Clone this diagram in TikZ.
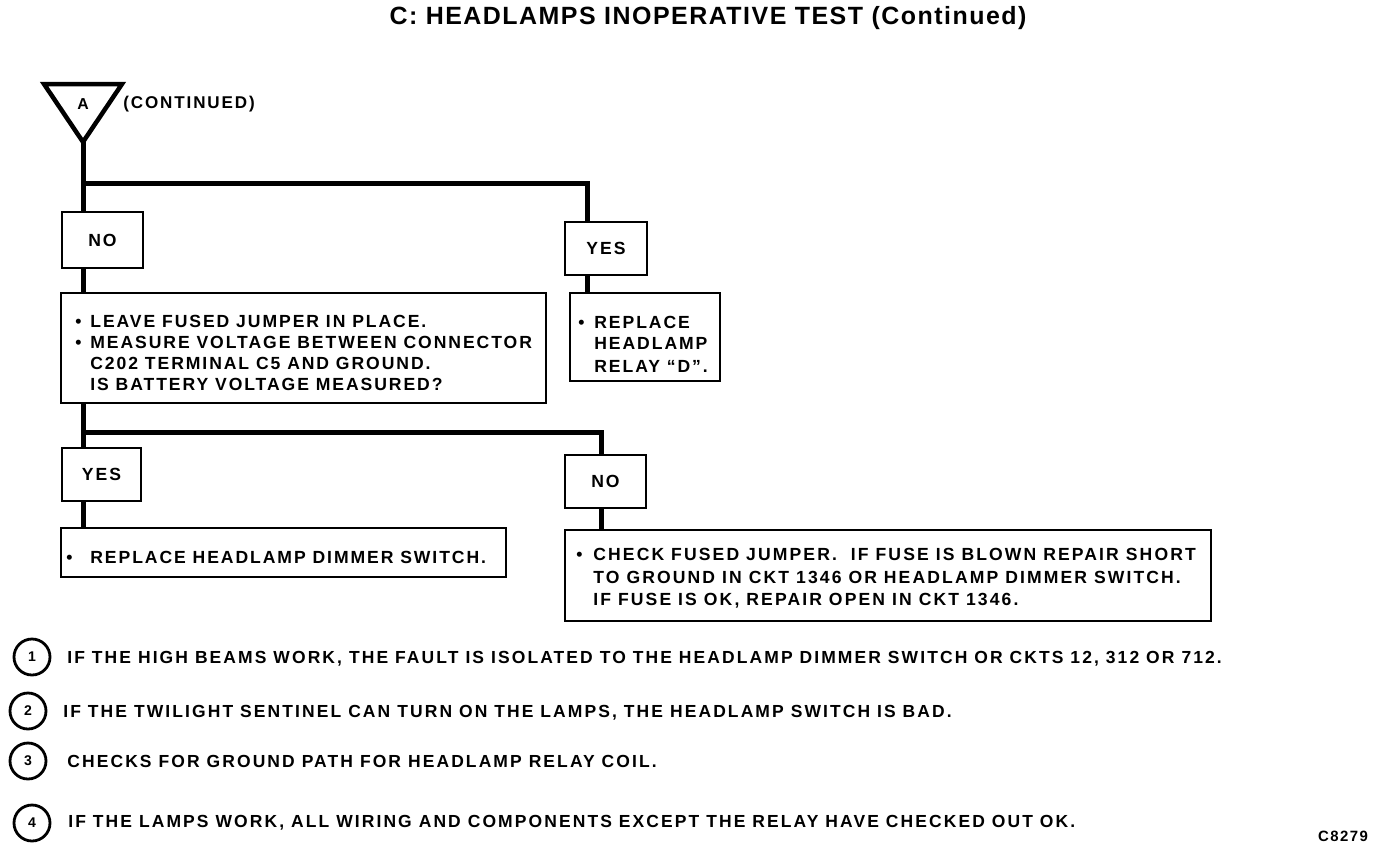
\documentclass[tikz,border=0pt]{standalone}
\usepackage{fontspec}
\setmainfont{Liberation Sans}
\newfontfamily\bodyf{Liberation Sans}[LetterSpace=11]
\newfontfamily\widef{Liberation Sans}[LetterSpace=12]
\newfontfamily\footf{Liberation Sans}[LetterSpace=12]
\newfontfamily\titlef{Liberation Sans}[LetterSpace=6]
\newfontfamily\smallf{Liberation Sans}[LetterSpace=10]
\def\px{0.02cm}
\tikzset{
  boxs/.style={draw, line width=2.6*\px, inner sep=0pt, rectangle},
  lblbox/.style={boxs, font=\bodyf\bfseries\fontsize{10}{12}\selectfont},
  txt/.style={inner sep=0pt, anchor=base west, font=\bodyf\bfseries\fontsize{10}{12}\selectfont},
  wtxt/.style={inner sep=0pt, anchor=base west, font=\widef\bfseries\fontsize{10}{12}\selectfont},
  ftxt/.style={inner sep=0pt, anchor=base west, font=\footf\bfseries\fontsize{9.95}{12}\selectfont},
  conn/.style={line width=5*\px, line join=miter},
  numc/.style={draw, circle, line width=2.8*\px, inner sep=0pt, minimum size=36*\px, font=\smallf\bfseries\fontsize{8}{9}\selectfont},
}
\begin{document}
\begin{tikzpicture}[x=0.02cm, y=-0.02cm]
\useasboundingbox (0,0) rectangle (1376,850);
% title
\node[inner sep=0pt, font=\titlef\bfseries\fontsize{14.2}{16}\selectfont] (title) at (708,18) {C: HEADLAMPS INOPERATIVE TEST (Continued)};
% triangle
\coordinate (tl) at (44,84);
\coordinate (tr) at (122,84);
\coordinate (tb) at (83,142);
\draw[line width=4.5*\px, line join=miter] (tl) -- (tr) -- (tb) -- cycle;
\node[inner sep=0pt, font=\bodyf\bfseries\fontsize{9}{10}\selectfont] (triA) at (83,104) {A};
\node[inner sep=0pt, anchor=west, font=\bodyf\bfseries\fontsize{9.7}{11}\selectfont] (cont) at (123,104) {(CONTINUED)};
% boxes
\node[lblbox, minimum width=81*\px, minimum height=56*\px] (no1) at (102.5,240) {NO};
\node[boxs, minimum width=485*\px, minimum height=110*\px] (box1) at (303.5,348) {};
\node[lblbox, minimum width=82*\px, minimum height=53*\px] (yes1) at (606,248.5) {YES};
\node[boxs, minimum width=150*\px, minimum height=88*\px] (rep1) at (645,337) {};
\node[lblbox, minimum width=79*\px, minimum height=53*\px] (yes2) at (101.5,474.5) {YES};
\node[boxs, minimum width=445*\px, minimum height=49*\px] (dim) at (283.5,552.5) {};
\node[lblbox, minimum width=81*\px, minimum height=53*\px] (no2) at (605.5,481.5) {NO};
\node[boxs, minimum width=646*\px, minimum height=91*\px] (chk) at (888,575.5) {};
% connectors
\coordinate (j1) at (83,183);
\coordinate (b1) at (587,183);
\coordinate (j2) at (83,432);
\coordinate (b2) at (601,432);
\draw[conn] (tb) -- (no1.north -| tb);
\draw[conn] (j1) -| (yes1.north -| b1);
\draw[conn] (no1.south -| j1) -- (box1.north -| j1);
\draw[conn] (yes1.south -| b1) -- (rep1.north -| b1);
\draw[conn] (box1.south -| j2) -- (yes2.north -| j2);
\draw[conn] (j2) -| (no2.north -| b2);
\draw[conn] (yes2.south -| j2) -- (dim.north -| j2);
\draw[conn] (no2.south -| b2) -- (chk.north -| b2);
% box1 text
\node[txt] (t1b) at (75,327.5) {•};
\node[txt] (t1a) at (90,327.5) {LEAVE FUSED JUMPER IN PLACE.};
\node[txt] (t2b) at (75,348.5) {•};
\node[txt] (t2a) at (90,348.5) {MEASURE VOLTAGE BETWEEN CONNECTOR};
\node[txt] (t3a) at (90,369.5) {C202 TERMINAL C5 AND GROUND.};
\node[txt] (t4a) at (90,390.5) {IS BATTERY VOLTAGE MEASURED?};
% rep1 text
\node[txt] (r1b) at (578,328.5) {•};
\node[txt] (r1a) at (594,328.5) {REPLACE};
\node[txt] (r2a) at (594,349.5) {HEADLAMP};
\node[txt] (r3a) at (594,372.5) {RELAY “D”.};
% dim text
\node[txt] (d1b) at (66,563.5) {•};
\node[txt] (d1a) at (90,563.5) {REPLACE HEADLAMP DIMMER SWITCH.};
% chk text
\node[wtxt] (k1b) at (576,560.5) {•};
\node[wtxt] (k1a) at (593,560.5) {CHECK FUSED JUMPER.\ \ IF FUSE IS BLOWN REPAIR SHORT};
\node[wtxt] (k2a) at (593,583.5) {TO GROUND IN CKT 1346 OR HEADLAMP DIMMER SWITCH.};
\node[wtxt] (k3a) at (593,605.5) {IF FUSE IS OK, REPAIR OPEN IN CKT 1346.};
% footnotes
\node[numc] (c1) at (32,657) {1};
\node[numc] (c2) at (28,711) {2};
\node[numc] (c3) at (28,761) {3};
\node[numc] (c4) at (32,823) {4};
\node[ftxt] (f1) at (67,663.5) {IF THE HIGH BEAMS WORK, THE FAULT IS ISOLATED TO THE HEADLAMP DIMMER SWITCH OR CKTS 12, 312 OR 712.};
\node[ftxt] (f2) at (63,717.5) {IF THE TWILIGHT SENTINEL CAN TURN ON THE LAMPS, THE HEADLAMP SWITCH IS BAD.};
\node[ftxt] (f3) at (67,767.5) {CHECKS FOR GROUND PATH FOR HEADLAMP RELAY COIL.};
\node[ftxt] (f4) at (68,827.5) {IF THE LAMPS WORK, ALL WIRING AND COMPONENTS EXCEPT THE RELAY HAVE CHECKED OUT OK.};
\node[inner sep=0pt, font=\smallf\bfseries\fontsize{8.5}{10}\selectfont] (code) at (1343,836) {C8279};
\end{tikzpicture}
\end{document}
